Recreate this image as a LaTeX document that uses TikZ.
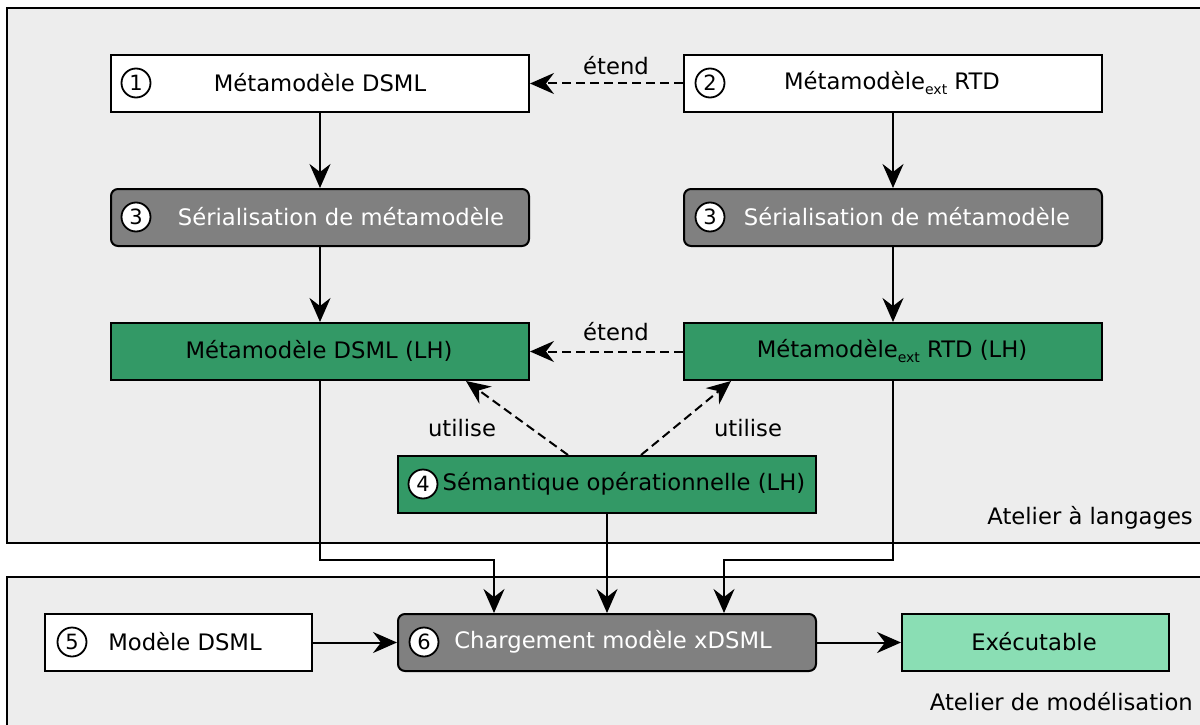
\documentclass[tikz,border=0pt]{standalone}
\usepackage{fontspec}
\setmainfont{DejaVu Sans}
\usetikzlibrary{arrows.meta}
\definecolor{panel}{HTML}{EDEDED}
\definecolor{dgreen}{HTML}{339966}
\definecolor{lgreen}{HTML}{8ADEB4}
\definecolor{gbox}{HTML}{808080}
\newcommand{\subext}{\raisebox{-5pt}{\fontsize{14}{14}\selectfont ext}}
\begin{document}
\begin{tikzpicture}[x=1pt,y=-1pt,
  font=\fontsize{22.7}{27}\selectfont,
  box/.style={draw, line width=2pt, minimum width=418pt, minimum height=57pt, inner sep=0pt, anchor=north west},
  sbox/.style={box, minimum width=267pt},
  gray box/.style={box, fill=gbox, rounded corners=7pt},
  num/.style={circle, draw, line width=1.8pt, fill=white, minimum size=29pt, inner sep=0pt, font=\fontsize{21}{21}\selectfont},
  conn/.style={line width=2pt, -{Stealth[length=24pt,width=21pt,inset=8pt]}},
  dconn/.style={conn, dash pattern=on 9pt off 5pt},
  lbl/.style={inner sep=0pt}
]
\clip (0,0) rectangle (1200,725);
\fill[white] (0,0) rectangle (1200,725);
% panels
\draw[line width=2pt, fill=panel] (7,8) rectangle (1215,543);
\draw[line width=2pt, fill=panel] (7,577) rectangle (1215,740);
\node[lbl, anchor=east] (atl) at (1193,518) {Atelier à langages};
\node[lbl, anchor=east] (atm) at (1193,702) {Atelier de modélisation};

% boxes
\node[box, fill=white] (A) at (110,54) {};
\node[lbl] (At) at (320,83) {Métamodèle DSML};
\node[num] (n1) at (136,83) {1};
\node[box, fill=white] (B) at (683,54) {};
\node[lbl] (Bt) at (892,83) {Métamodèle\subext{} RTD};
\node[num] (n2) at (710,83) {2};

\node[gray box] (C) at (110,188) {};
\node[lbl, text=white] (Ct) at (341,217) {Sérialisation de métamodèle};
\node[num] (n3a) at (136,217) {3};
\node[gray box] (D) at (683,188) {};
\node[lbl, text=white] (Dt) at (907,217) {Sérialisation de métamodèle};
\node[num] (n3b) at (710,217) {3};

\node[box, fill=dgreen] (E) at (110,322) {};
\node[lbl] (Et) at (319,351) {Métamodèle DSML (LH)};
\node[box, fill=dgreen] (F) at (683,322) {};
\node[lbl] (Ft) at (892,351) {Métamodèle\subext{} RTD (LH)};

\node[box, fill=dgreen] (G) at (397,455) {};
\node[lbl] (Gt) at (624,484) {Sémantique opérationnelle (LH)};
\node[num] (n4) at (423,484) {4};

\node[sbox, fill=white] (H) at (44,613) {};
\node[lbl] (Ht) at (185,642) {Modèle DSML};
\node[num] (n5) at (72,642) {5};

\node[gray box] (I) at (397,613) {};
\node[lbl, text=white] (It) at (613,642) {Chargement modèle xDSML};
\node[num] (n6) at (424,642) {6};

\node[sbox, fill=lgreen] (J) at (901,613) {};
\node[lbl] (Jt) at (1034,642) {Exécutable};

% connectors
\draw[dconn] (B.west) -- (A.east);
\node[lbl] (e1) at (616,66) {étend};
\draw[dconn] (F.west) -- (E.east);
\node[lbl] (e2) at (616,332) {étend};

\draw[conn] (A.south) -- (C.north);
\draw[conn] (B.south) -- (D.north);
\draw[conn] (C.south) -- (E.north);
\draw[conn] (D.south) -- (F.north);

\draw[dconn] ([xshift=-39pt]G.north) -- ([xshift=146pt]E.south);
\draw[dconn] ([xshift=34pt]G.north) -- ([xshift=-162pt]F.south);
\node[lbl] (u1) at (462,428) {utilise};
\node[lbl] (u2) at (748,428) {utilise};

\coordinate (yl) at (0,560);
\draw[conn] (E.south) -- (E.south |- yl) -| ([xshift=-113pt]I.north);
\draw[conn] (F.south) -- (F.south |- yl) -| ([xshift=117pt]I.north);
\draw[conn] (G.south) -- (I.north);
\draw[conn] (H.east) -- (I.west);
\draw[conn] (I.east) -- (J.west);
\end{tikzpicture}
\end{document}
